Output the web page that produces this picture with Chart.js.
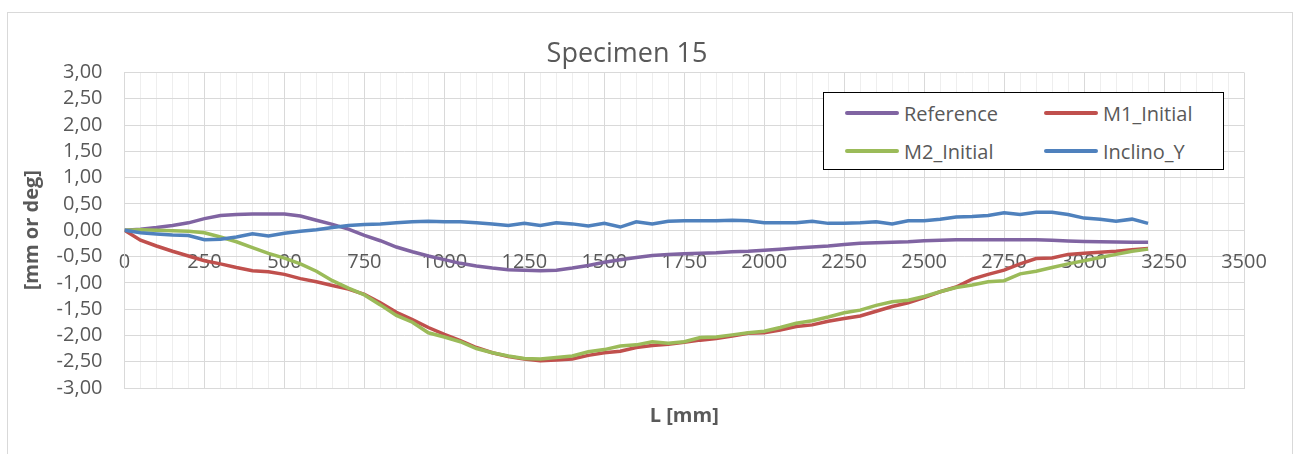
<!DOCTYPE html>
<html>
<head>
<meta charset="utf-8">
<script src="https://cdn.jsdelivr.net/npm/chart.js@4"></script>
<style>
html,body{margin:0;padding:0;background:#fff;}
#wrap{position:relative;width:1298px;height:454px;overflow:hidden;background:#fff;}
#frame{position:absolute;left:7px;top:12px;width:1286px;height:470px;border:1px solid #d9d9d9;box-sizing:border-box;}
#c{position:absolute;left:0;top:0;}
#legend{position:absolute;left:823px;top:92px;width:401px;height:78px;border:1.5px solid #000;box-sizing:border-box;background:#fff;font-family:'Open Sans',sans-serif;font-size:20px;color:#595959;}
.item{position:absolute;height:28px;display:flex;align-items:center;white-space:nowrap;}
.swatch{width:54px;height:4px;margin-right:5px;border-radius:2px;}
</style>
</head>
<body>
<div id="wrap">
  <div id="frame"></div>
  <canvas id="c" width="1298" height="454"></canvas>
  <div id="legend"></div>
</div>
<script>
// ---- data ----
const titleText = 'Specimen 15';
const xTitle = 'L [mm]';
const yTitle = '[mm or deg]';
const seriesNames = ['Reference', 'M1_Initial', 'M2_Initial', 'Inclino_Y'];
const seriesColors = ['#8064a2', '#c0504d', '#9bbb59', '#4f81bd'];

const positions = [0,50,100,150,200,250,300,350,400,450,500,550,600,650,700,750,800,850,900,950,
  1000,1050,1100,1150,1200,1250,1300,1350,1400,1450,1500,1550,1600,1650,1700,1750,1800,1850,1900,1950,
  2000,2050,2100,2150,2200,2250,2300,2350,2400,2450,2500,2550,2600,2650,2700,2750,2800,2850,2900,2950,
  3000,3050,3100,3150,3200];

const reference = [0,0.02,0.05,0.09,0.14,0.22,0.28,0.30,0.31,0.31,0.31,0.27,0.19,0.11,0.02,-0.10,-0.20,-0.32,-0.41,-0.49,
  -0.56,-0.63,-0.68,-0.72,-0.75,-0.76,-0.77,-0.76,-0.72,-0.67,-0.61,-0.56,-0.52,-0.48,-0.46,-0.45,-0.44,-0.43,-0.41,-0.40,
  -0.38,-0.36,-0.34,-0.32,-0.30,-0.27,-0.25,-0.24,-0.23,-0.22,-0.20,-0.19,-0.18,-0.18,-0.18,-0.18,-0.18,-0.18,-0.19,-0.205,
  -0.215,-0.22,-0.225,-0.23,-0.23];

const m1Initial = [0,-0.19,-0.30,-0.40,-0.49,-0.58,-0.64,-0.71,-0.77,-0.79,-0.84,-0.92,-0.98,-1.05,-1.12,-1.22,-1.38,-1.56,-1.70,-1.85,
  -1.98,-2.10,-2.23,-2.33,-2.40,-2.45,-2.48,-2.47,-2.45,-2.38,-2.33,-2.30,-2.23,-2.19,-2.17,-2.13,-2.09,-2.06,-2.01,-1.96,
  -1.95,-1.90,-1.83,-1.80,-1.73,-1.68,-1.63,-1.54,-1.45,-1.38,-1.28,-1.17,-1.08,-0.93,-0.84,-0.76,-0.64,-0.54,-0.53,-0.46,
  -0.44,-0.42,-0.40,-0.37,-0.35];

const m2Initial = [0,0.01,0.00,-0.01,-0.02,-0.05,-0.13,-0.22,-0.33,-0.44,-0.53,-0.64,-0.78,-0.96,-1.10,-1.23,-1.42,-1.62,-1.75,-1.95,
  -2.03,-2.12,-2.25,-2.33,-2.39,-2.44,-2.45,-2.42,-2.39,-2.31,-2.27,-2.20,-2.18,-2.12,-2.15,-2.12,-2.04,-2.03,-1.99,-1.95,
  -1.92,-1.85,-1.77,-1.72,-1.65,-1.57,-1.52,-1.43,-1.36,-1.33,-1.26,-1.17,-1.09,-1.04,-0.98,-0.96,-0.83,-0.78,-0.71,-0.64,
  -0.58,-0.52,-0.46,-0.40,-0.36];

const inclinoY = [0,-0.05,-0.07,-0.09,-0.10,-0.18,-0.17,-0.13,-0.07,-0.11,-0.06,-0.02,0.01,0.05,0.09,0.11,0.12,0.14,0.16,0.17,
  0.16,0.16,0.14,0.12,0.09,0.13,0.09,0.14,0.12,0.08,0.13,0.06,0.16,0.12,0.17,0.18,0.18,0.18,0.19,0.18,
  0.14,0.14,0.14,0.17,0.13,0.13,0.14,0.16,0.12,0.18,0.18,0.21,0.25,0.26,0.28,0.33,0.30,0.34,0.34,0.30,
  0.23,0.21,0.17,0.21,0.13];

const xMin = 0, xMax = 3500, xMajorStep = 250, xMinorStep = 50;
const yMin = -3, yMax = 3, yStep = 0.5;

// ---- chart ----
const allSeries = [reference, m1Initial, m2Initial, inclinoY];
const datasets = allSeries.map((vals, i) => ({
  label: seriesNames[i],
  data: positions.map((p, j) => ({x: p, y: vals[j]})),
  borderColor: seriesColors[i],
  backgroundColor: seriesColors[i],
  borderWidth: 3.5,
  pointRadius: 0,
  tension: 0,
  fill: false,
  order: allSeries.length - i,
  xAxisID: 'x',
  yAxisID: 'y'
}));

Chart.defaults.font.family = "'Open Sans', sans-serif";
Chart.defaults.color = '#595959';

const chart = new Chart(document.getElementById('c'), {
  type: 'line',
  data: { datasets },
  options: {
    responsive: false,
    animation: false,
    layout: { padding: { left: 10, right: 54, top: 0, bottom: 20 } },
    plugins: {
      legend: { display: false },
      tooltip: { enabled: false },
      title: {
        display: true,
        text: titleText,
        font: { size: 27, weight: 'normal' },
        color: '#595959',
        padding: { top: 38, bottom: 2 }
      }
    },
    scales: {
      x: {
        type: 'linear',
        position: 'bottom',
        min: xMin, max: xMax,
        ticks: { display: false, stepSize: xMinorStep, autoSkip: false },
        grid: {
          drawTicks: false,
          color: (ctx) => (ctx.tick && ctx.tick.value % xMajorStep === 0) ? '#d9d9d9' : '#eeeeee',
          lineWidth: 1
        },
        border: { display: true, color: '#d9d9d9' },
        title: { display: true, text: xTitle, font: { size: 20, weight: 'bold' }, color: '#595959', padding: { top: 16, bottom: 6 } }
      },
      x2: {
        type: 'linear',
        axis: 'x',
        position: { y: 0 },
        min: xMin, max: xMax,
        ticks: {
          stepSize: xMajorStep, autoSkip: false, maxRotation: 0, padding: 20, font: { size: 20 }, color: '#595959',
          callback: (v) => String(v)
        },
        grid: { display: false, drawTicks: false },
        border: { display: false }
      },
      y: {
        type: 'linear',
        position: 'left',
        min: yMin, max: yMax,
        afterFit: (s) => { s.width = 114.5; },
        ticks: {
          stepSize: yStep, autoSkip: false, padding: 22, font: { size: 20 }, color: '#595959',
          callback: (v) => Number(v).toFixed(2).replace('.', ',')
        },
        grid: { drawTicks: false, color: '#d9d9d9', lineWidth: 1 },
        border: { display: true, color: '#d9d9d9' },
        title: { display: true, text: yTitle, font: { size: 20, weight: 'bold' }, color: '#595959', padding: { top: 10 } }
      }
    }
  }
});

// ---- HTML legend (two columns, row-major) ----
const legend = document.getElementById('legend');
const colLeft = [21, 220], rowTop = [6, 44];
chart.data.datasets.forEach((ds, i) => {
  const item = document.createElement('div');
  item.className = 'item';
  item.style.left = colLeft[i % 2] + 'px';
  item.style.top = rowTop[Math.floor(i / 2)] + 'px';
  const sw = document.createElement('span');
  sw.className = 'swatch';
  sw.style.background = ds.borderColor;
  const tx = document.createElement('span');
  tx.textContent = ds.label;
  item.appendChild(sw); item.appendChild(tx);
  legend.appendChild(item);
});
</script>
</body>
</html>
